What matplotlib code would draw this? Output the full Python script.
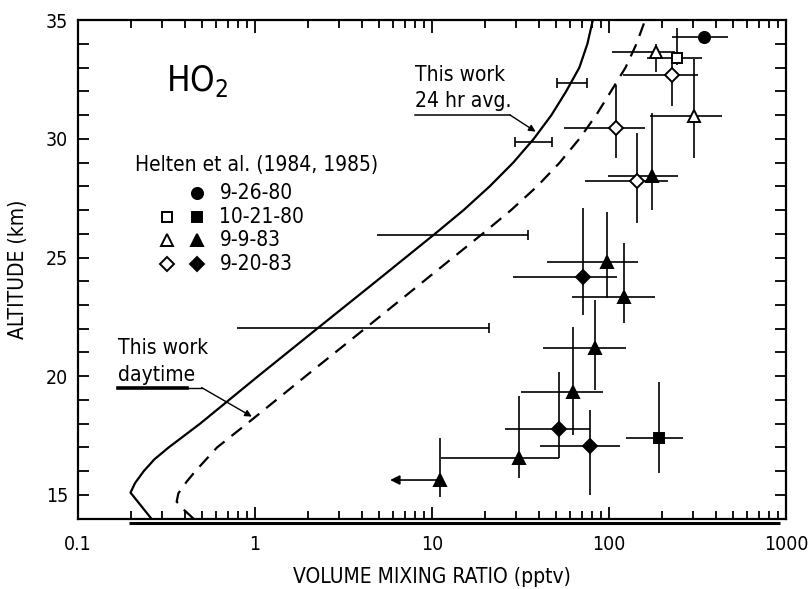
import matplotlib
matplotlib.use('Agg')
import matplotlib.pyplot as plt
import numpy as np

plt.rcParams['font.family'] = ['DejaVu Sans']
plt.rcParams['font.stretch'] = 'condensed'
plt.rcParams['mathtext.default'] = 'regular'

# model profiles: volume mixing ratio (pptv) vs altitude (km)
avg24_x = [0.26, 0.198, 0.21, 0.235, 0.27, 0.325, 0.489, 1.04, 2.24, 4.84,
           10.4, 15.1, 21.2, 28.8, 37.6, 47.3, 57.3, 68.0, 75.5, 81.0]
avg24_y = [14.0, 15.1, 15.5, 16.0, 16.5, 17.0, 18.0, 20.0, 22.0, 24.0,
           26.0, 27.0, 28.0, 29.0, 30.0, 31.0, 32.0, 33.0, 34.0, 35.0]
day_x = [0.45, 0.40, 0.361, 0.369, 0.411, 0.46, 0.61, 0.90, 1.93, 4.17,
         8.97, 19.3, 28.0, 39.3, 52.7, 68.0, 84.7, 102.6, 124.0, 143.0, 160.0]
day_y = [14.0, 14.35, 14.72, 15.07, 15.56, 16.0, 17.0, 18.0, 20.0, 22.0,
         24.0, 26.0, 27.0, 28.0, 29.0, 30.0, 31.0, 32.0, 33.0, 34.0, 35.0]

# model uncertainty bars (altitude, low, high)
bar_y = [32.36, 29.88, 25.93, 22.02]
bar_lo = [50.6, 29.5, 4.88, 0.79]
bar_hi = [74.8, 47.4, 35.0, 21.1]
bar_leftcap = [True, True, False, False]

# Helten et al. balloon data: x, y, x-range, y-range
c1_x = [344]; c1_y = [34.3]; c1_xlo = [227]; c1_xhi = [470]; c1_ylo = [34.3]; c1_yhi = [34.3]

sq_open_x = [242]; sq_open_y = [33.4]
sq_open_xlo = [164]; sq_open_xhi = [335]; sq_open_ylo = [33.1]; sq_open_yhi = [34.65]
sq_fill_x = [192]; sq_fill_y = [17.39]
sq_fill_xlo = [125]; sq_fill_xhi = [262]; sq_fill_ylo = [15.91]; sq_fill_yhi = [19.77]

tri_open_x = [185, 302]; tri_open_y = [33.67, 30.96]
tri_open_xlo = [104, 171]; tri_open_xhi = [236, 434]
tri_open_ylo = [32.8, 29.2]; tri_open_yhi = [34.0, 33.36]
tri_fill_x = [174, 97, 122, 83.4, 62.8, 31, 11.1]
tri_fill_y = [28.43, 24.82, 23.35, 21.18, 19.35, 16.55, 15.63]
tri_fill_xlo = [99, 44.6, 61.5, 42.4, 32, 11.2, 11.1]
tri_fill_xhi = [245, 146, 182, 125, 93, 52.4, 11.1]
tri_fill_ylo = [27.0, 23.3, 22.24, 19.42, 17.53, 15.7, 14.93]
tri_fill_yhi = [31.08, 26.9, 25.6, 23.2, 22.09, 19.17, 17.39]
upper_limit_to = 5.8  # arrow on the lowest triangle

dia_open_x = [226, 110, 143]; dia_open_y = [32.68, 30.44, 28.23]
dia_open_xlo = [120, 56, 73]; dia_open_xhi = [318, 160, 215]
dia_open_ylo = [31.4, 29.2, 26.45]; dia_open_yhi = [33.2, 32.25, 30.24]
dia_fill_x = [71, 52.4, 78]; dia_fill_y = [24.19, 17.77, 17.06]
dia_fill_xlo = [28.7, 25.8, 40.7]; dia_fill_xhi = [111, 78, 115]
dia_fill_ylo = [22.57, 16.55, 15.0]; dia_fill_yhi = [27.07, 20.19, 18.58]

legend_dates = ['9-26-80', '10-21-80', '9-9-83', '9-20-83']

lw_err = 1.2


def draw_set(ax, x, y, xlo, xhi, ylo, yhi, marker, filled, ms):
    ax.hlines(y, xlo, xhi, colors='k', lw=lw_err, zorder=2)
    ax.vlines(x, ylo, yhi, colors='k', lw=lw_err, zorder=2)
    ax.plot(x, y, ls='none', marker=marker, ms=ms, mec='k', mew=1.4,
            mfc='k' if filled else 'white', zorder=4)


fig = plt.figure(figsize=(8.09, 5.89), dpi=100)
ax = fig.add_axes([0.0964, 0.1193, 0.8752, 0.8467])
ax.set_xscale('log')
ax.set_xlim(0.1, 1000)
ax.set_ylim(14, 35)

ax.plot(avg24_x, avg24_y, 'k-', lw=1.6, zorder=3)
ax.plot(day_x, day_y, 'k--', lw=1.6, dashes=(6, 4), zorder=3)

for y, lo, hi, lc in zip(bar_y, bar_lo, bar_hi, bar_leftcap):
    ax.hlines(y, lo, hi, colors='k', lw=lw_err, zorder=2)
    ax.plot([hi], [y], marker='|', ms=7, mew=1.2, color='k')
    if lc:
        ax.plot([lo], [y], marker='|', ms=7, mew=1.2, color='k')

draw_set(ax, c1_x, c1_y, c1_xlo, c1_xhi, c1_ylo, c1_yhi, 'o', True, 8)
draw_set(ax, sq_open_x, sq_open_y, sq_open_xlo, sq_open_xhi, sq_open_ylo, sq_open_yhi, 's', False, 7.5)
draw_set(ax, sq_fill_x, sq_fill_y, sq_fill_xlo, sq_fill_xhi, sq_fill_ylo, sq_fill_yhi, 's', True, 7.5)
draw_set(ax, tri_open_x, tri_open_y, tri_open_xlo, tri_open_xhi, tri_open_ylo, tri_open_yhi, '^', False, 9)
draw_set(ax, tri_fill_x, tri_fill_y, tri_fill_xlo, tri_fill_xhi, tri_fill_ylo, tri_fill_yhi, '^', True, 9)
draw_set(ax, dia_open_x, dia_open_y, dia_open_xlo, dia_open_xhi, dia_open_ylo, dia_open_yhi, 'D', False, 7.5)
draw_set(ax, dia_fill_x, dia_fill_y, dia_fill_xlo, dia_fill_xhi, dia_fill_ylo, dia_fill_yhi, 'D', True, 7.5)

# upper limit arrow
ax.annotate('', xy=(upper_limit_to, tri_fill_y[-1]), xytext=(tri_fill_x[-1], tri_fill_y[-1]),
            arrowprops=dict(arrowstyle='-|>', color='k', lw=lw_err, mutation_scale=14,
                            shrinkA=0, shrinkB=0), zorder=2)

# labels inside the plot
fs = 15
ax.text(0.315, 32.45, 'HO$_2$', fontsize=25, ha='left', va='center')
ax.text(0.21, 28.9, 'Helten et al. (1984, 1985)', fontsize=fs, ha='left', va='center')
leg_rows = [27.72, 26.71, 25.74, 24.73]
leg_mk = ['o', 's', '^', 'D']
leg_ms = [8, 7.5, 9, 7.5]
for i, (lab, yy) in enumerate(zip(legend_dates, leg_rows)):
    if i > 0:
        ax.plot([0.319], [yy], ls='none', marker=leg_mk[i], ms=leg_ms[i], mfc='white', mec='k', mew=1.4)
    ax.plot([0.47], [yy], ls='none', marker=leg_mk[i], ms=leg_ms[i], mfc='k', mec='k', mew=1.4)
    ax.text(0.63, yy, lab, fontsize=fs, ha='left', va='center')

ax.text(8.0, 32.68, 'This work', fontsize=fs, ha='left', va='center')
ax.text(8.0, 31.6, '24 hr avg.', fontsize=fs, ha='left', va='center')
ax.plot([8.0, 27.6], [31.0, 31.0], 'k-', lw=1.1)
ax.annotate('', xy=(38.5, 30.3), xytext=(27.6, 31.0),
            arrowprops=dict(arrowstyle='-|>', color='k', lw=1.0, mutation_scale=10,
                            shrinkA=0, shrinkB=0))

ax.text(0.168, 21.2, 'This work', fontsize=fs, ha='left', va='center')
ax.text(0.168, 20.05, 'daytime', fontsize=fs, ha='left', va='center')
ax.plot([0.168, 0.413], [19.52, 19.52], 'k-', lw=2.6)
ax.plot([0.413, 0.5], [19.52, 19.52], 'k-', lw=1.0)
ax.annotate('', xy=(0.96, 18.3), xytext=(0.5, 19.52),
            arrowprops=dict(arrowstyle='-|>', color='k', lw=1.0, mutation_scale=10,
                            shrinkA=0, shrinkB=0))

# axes styling
for sp in ax.spines.values():
    sp.set_linewidth(1.6)
ax.set_xticks([0.1, 1, 10, 100, 1000])
ax.set_xticklabels(['0.1', '1', '10', '100', '1000'])
ax.set_yticks([15, 20, 25, 30, 35])
ax.set_yticks(np.arange(14, 36), minor=True)
ax.tick_params(which='both', direction='in', top=True, right=True, width=1.3, labelsize=14)
ax.tick_params(axis='x', which='major', length=9, pad=12)
ax.tick_params(axis='x', which='minor', length=5.5)
ax.tick_params(axis='y', which='both', length=8, pad=7)

ax.set_xlabel('VOLUME MIXING RATIO (pptv)', fontsize=15, labelpad=9)
ax.set_ylabel('ALTITUDE (km)', fontsize=15, labelpad=13)

# second rule under the x axis
ax.plot([0.072, 0.9915], [-0.0085, -0.0085], transform=ax.transAxes, color='k',
        lw=2.2, clip_on=False, solid_capstyle='butt')

fig.savefig('out.png', dpi=100)
